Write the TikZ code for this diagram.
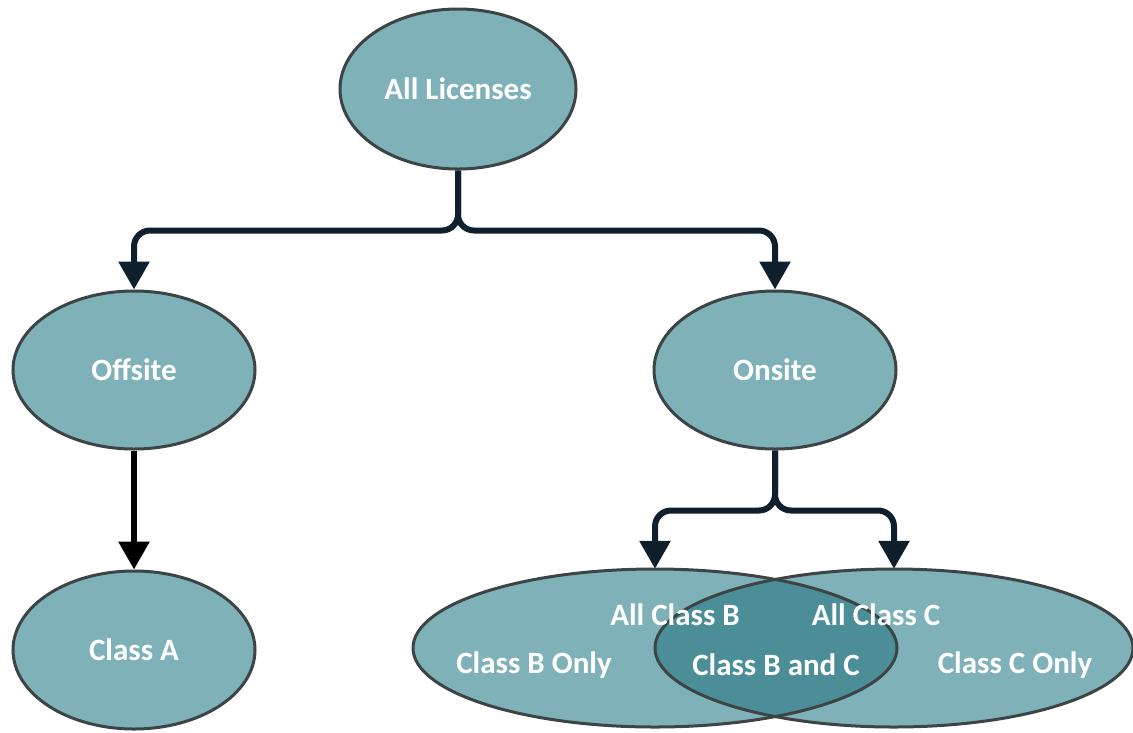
\documentclass[tikz,border=0pt]{standalone}
\usepackage{fontspec}
\setmainfont{Carlito}
\usetikzlibrary{shapes.geometric,arrows.meta}
\definecolor{tealfill}{HTML}{7FB2B8}
\definecolor{tealdark}{HTML}{4C8E97}
\definecolor{ellborder}{HTML}{3C4446}
\definecolor{connnavy}{HTML}{0F1F2B}
\tikzset{
  ell/.style={ellipse, fill=tealfill, draw=ellborder, line width=3pt,
    minimum width=242pt, minimum height=158pt, inner sep=0pt,
    text=white, font=\fontsize{31}{37}\selectfont\bfseries},
  lbl/.style={text=white, font=\fontsize{31}{37}\selectfont\bfseries, inner sep=0pt},
  conn/.style={draw=connnavy, line width=6pt, rounded corners=16pt,
    -{Triangle[width=30pt,length=28pt]}},
  connblack/.style={conn, draw=black}
}
\begin{document}
\begin{tikzpicture}[x=1pt,y=-1pt]
\useasboundingbox (0,0) rectangle (1133,732);
% top nodes
\node[ell, minimum width=236pt, minimum height=160pt] (lic) at (458,89) {All Licenses};
\node[ell] (off) at (134,370) {Offsite};
\node[ell] (on) at (775,370) {Onsite};
\node[ell] (a) at (134,650) {Class A};
% Venn ellipses
\node[ellipse, fill=tealfill, minimum width=484pt, minimum height=158pt, inner sep=0pt] (b) at (655,648) {};
\node[ellipse, fill=tealfill, minimum width=478pt, minimum height=158pt, inner sep=0pt] (c) at (894,648) {};
\begin{scope}
  \clip (b.center) ellipse [x radius=242pt, y radius=79pt];
  \fill[tealdark] (c.center) ellipse [x radius=239pt, y radius=79pt];
\end{scope}
\draw[ellborder, line width=3pt] (b.center) ellipse [x radius=242pt, y radius=79pt];
\draw[ellborder, line width=3pt] (c.center) ellipse [x radius=239pt, y radius=79pt];
% Venn labels
\node[lbl] (allb) at (675,615) {All Class B};
\node[lbl] (allc) at (876,615) {All Class C};
\node[lbl] (bonly) at (534,665) {Class B Only};
\node[lbl] (bc) at (776,665) {Class B and C};
\node[lbl] (conly) at (1015,665) {Class C Only};
% connectors
\draw[conn] (lic.south) -- ++(0,60) -| (off.north);
\draw[conn] (lic.south) -- ++(0,60) -| (on.north);
\draw[connblack, rounded corners=0pt] (off.south) -- (a.north);
\draw[conn] (on.south) -- ++(0,60) -| (b.north);
\draw[conn] (on.south) -- ++(0,60) -| (c.north);
\end{tikzpicture}
\end{document}
